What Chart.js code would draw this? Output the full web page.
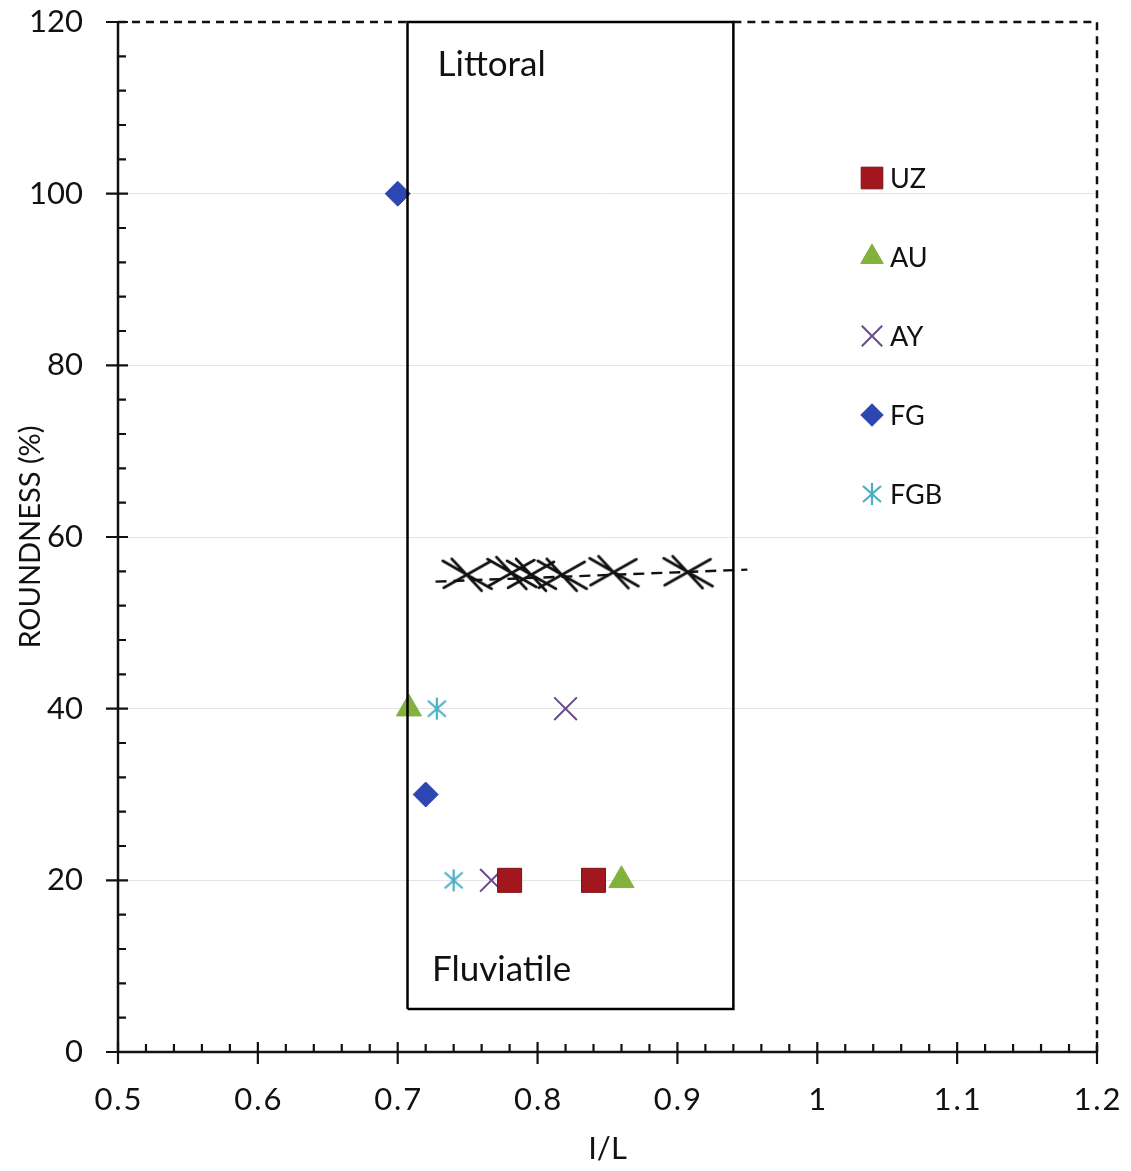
<!DOCTYPE html>
<html>
<head>
<meta charset="utf-8">
<script src="https://cdn.jsdelivr.net/npm/chart.js@4.4.1/dist/chart.umd.min.js"></script>
<style>
  html, body { margin: 0; padding: 0; background: #fff; }
  #wrap { width: 1131px; height: 1171px; }
</style>
</head>
<body>
<div id="wrap"><canvas id="roundChart" width="1131" height="1171"></canvas></div>
<script>
// series values
const uzX = [0.78, 0.84];
const uzY = [20, 20];
const auX = [0.708, 0.86];
const auY = [40, 20];
const ayX = [0.82, 0.767];
const ayY = [40, 20];
const fgX = [0.70, 0.72];
const fgY = [100, 30];
const fgbX = [0.728, 0.74];
const fgbY = [40, 20];

// littoral / fluviatile box and the hand-drawn boundary
const boxX = [0.707, 0.94, 0.94, 0.707, 0.707];
const boxY = [5, 5, 120, 120, 5];
const lineX = [0.727, 0.95];
const lineY = [54.8, 56.2];
const crossX = [0.75, 0.782, 0.796, 0.818, 0.855, 0.908];
const crossY = [55.6, 55.8, 55.6, 55.6, 55.9, 55.9];

const xTicks = [0.5, 0.6, 0.7, 0.8, 0.9, 1, 1.1, 1.2];
const yTicks = [0, 20, 40, 60, 80, 100, 120];

const FONT = 'Lato, "Open Sans", sans-serif';

const pts = (xs, ys) => xs.map((x, i) => ({ x: x, y: ys[i] }));

// elongated hand-drawn looking X used for the boundary marks
function makeCross() {
    const c = document.createElement('canvas');
    c.width = 56; c.height = 38;
    const g = c.getContext('2d');
    g.strokeStyle = '#111';
    g.lineWidth = 2.6;
    g.lineCap = 'round';
    g.beginPath();
    g.moveTo(3, 5); g.lineTo(52, 33);
    g.moveTo(4, 32); g.lineTo(50, 6);
    g.moveTo(12, 3); g.lineTo(42, 35);
    g.stroke();
    return c;
}

// six-armed asterisk like the FGB marker
function makeAsterisk(color) {
    const c = document.createElement('canvas');
    c.width = 26; c.height = 26;
    const g = c.getContext('2d');
    g.strokeStyle = color;
    g.lineWidth = 2.2;
    g.beginPath();
    g.moveTo(13, 2); g.lineTo(13, 24);
    g.moveTo(4, 5); g.lineTo(22, 21);
    g.moveTo(22, 5); g.lineTo(4, 21);
    g.stroke();
    return c;
}

const series = [
    { label: 'UZ', data: pts(uzX, uzY), pointStyle: 'rect', pointRadius: 17, backgroundColor: '#a1171d', borderColor: '#7d1216', borderWidth: 1 },
    { label: 'AU', data: pts(auX, auY), pointStyle: 'triangle', pointRadius: 14.5, backgroundColor: '#82b13c', borderColor: '#82b13c', borderWidth: 1 },
    { label: 'AY', data: pts(ayX, ayY), pointStyle: 'crossRot', pointRadius: 16, backgroundColor: '#6a4a8c', borderColor: '#6a4a8c', borderWidth: 2 },
    { label: 'FG', data: pts(fgX, fgY), pointStyle: 'rectRot', pointRadius: 12.5, backgroundColor: '#2c46b2', borderColor: '#2c46b2', borderWidth: 1 },
    { label: 'FGB', data: pts(fgbX, fgbY), pointStyle: makeAsterisk('#4aaec4'), pointRadius: 12, backgroundColor: '#4aaec4', borderColor: '#4aaec4', borderWidth: 2 }
];

const datasets = series.map(s => Object.assign({ showLine: false, pointHoverRadius: s.pointRadius }, s));

datasets.push({
    label: 'box', data: pts(boxX, boxY), showLine: true, pointRadius: 0,
    borderColor: '#000', borderWidth: 2.5, fill: false, clip: false, order: -1
});
datasets.push({
    label: 'boundary', data: pts(lineX, lineY), showLine: true, pointRadius: 0,
    borderColor: '#111', borderWidth: 2.4, borderDash: [11, 7], fill: false
});
datasets.push({
    label: 'marks', data: pts(crossX, crossY), showLine: false,
    pointStyle: makeCross(), pointRadius: 20
});

// axes, ticks, dashed frame, notes and legend
const framePlugin = {
    id: 'frame',
    afterDraw(chart) {
        const ctx = chart.ctx;
        const a = chart.chartArea;
        const xs = chart.scales.x, ys = chart.scales.y;
        ctx.save();
        ctx.strokeStyle = '#111';
        ctx.lineWidth = 2.5;

        // dashed top and right
        ctx.setLineDash([8, 6]);
        ctx.beginPath();
        ctx.moveTo(a.left, a.top); ctx.lineTo(xs.getPixelForValue(0.707), a.top);
        ctx.moveTo(xs.getPixelForValue(0.94), a.top); ctx.lineTo(a.right, a.top);
        ctx.lineTo(a.right, a.bottom);
        ctx.stroke();
        ctx.setLineDash([]);

        // solid left and bottom axes
        ctx.beginPath();
        ctx.moveTo(a.left, a.top); ctx.lineTo(a.left, a.bottom); ctx.lineTo(a.right, a.bottom);
        ctx.stroke();

        ctx.lineWidth = 2.2;
        ctx.beginPath();
        for (let v = 0; v <= 120; v += 4) {
            const p = ys.getPixelForValue(v);
            if (v % 20 === 0) { ctx.moveTo(a.left - 12, p); ctx.lineTo(a.left + 10, p); }
            else { ctx.moveTo(a.left, p); ctx.lineTo(a.left + 8, p); }
        }
        for (let i = 0; i <= 35; i++) {
            const p = xs.getPixelForValue(0.5 + i * 0.02);
            if (i % 5 === 0) { ctx.moveTo(p, a.bottom - 10); ctx.lineTo(p, a.bottom + 12); }
            else { ctx.moveTo(p, a.bottom); ctx.lineTo(p, a.bottom - 8); }
        }
        ctx.stroke();

        // zone names
        ctx.fillStyle = '#111';
        ctx.font = '35px ' + FONT;
        ctx.textBaseline = 'middle';
        ctx.textAlign = 'left';
        ctx.fillText('Littoral', xs.getPixelForValue(0.7285), ys.getPixelForValue(115.0));
        ctx.fillText('Fluviatile', xs.getPixelForValue(0.7245), ys.getPixelForValue(9.6));

        // legend
        const lx = a.left + 754, ly = a.top + 156, step = 79;
        ctx.font = '27px ' + FONT;
        series.forEach((s, i) => {
            const y = ly + i * step;
            ctx.fillStyle = s.backgroundColor;
            ctx.strokeStyle = s.borderColor;
            ctx.lineWidth = s.borderWidth;
            Chart.helpers.drawPoint(ctx, {
                pointStyle: s.pointStyle, radius: s.pointRadius * 0.9, rotation: 0, borderWidth: s.borderWidth
            }, lx, y);
            ctx.fillStyle = '#111';
            ctx.fillText(s.label, lx + 18, y + 1);
        });
        ctx.restore();
    }
};

const fmt = v => {
    const s = String(Math.round(v * 10) / 10);
    return s.split('').join('\u200A');
};

new Chart(document.getElementById('roundChart'), {
    type: 'scatter',
    data: { datasets: datasets },
    options: {
        responsive: false,
        animation: false,
        layout: { padding: { top: 22, right: 34, left: 0, bottom: 0 } },
        plugins: { legend: { display: false }, tooltip: { enabled: false } },
        scales: {
            x: {
                type: 'linear', min: 0.5, max: 1.2,
                afterBuildTicks: s => { s.ticks = xTicks.map(v => ({ value: v })); },
                afterFit: s => { s.height = 119; },
                grid: { drawOnChartArea: false, drawTicks: true, tickLength: 29, tickColor: 'rgba(0,0,0,0)' },
                border: { display: false },
                ticks: { color: '#111', font: { family: FONT, size: 31 }, padding: 0, callback: v => fmt(v), maxRotation: 0 },
                title: { display: true, text: 'I/L', color: '#111', font: { family: FONT, size: 31 }, padding: { top: 0, bottom: 3 } }
            },
            y: {
                type: 'linear', min: 0, max: 120,
                afterBuildTicks: s => { s.ticks = yTicks.map(v => ({ value: v })); },
                afterFit: s => { s.width = 118; },
                grid: {
                    drawTicks: true, tickLength: 35, tickColor: 'rgba(0,0,0,0)', lineWidth: 1,
                    color: c => (c.tick && c.tick.value > 0 && c.tick.value < 120) ? '#e4e4e4' : 'rgba(0,0,0,0)'
                },
                border: { display: false },
                ticks: { color: '#111', font: { family: FONT, size: 31 }, padding: 0 },
                title: { display: true, text: 'ROUNDNESS (%)', color: '#111', font: { family: FONT, size: 29 }, padding: { top: 13, bottom: 0 } }
            }
        }
    },
    plugins: [framePlugin]
});
</script>
</body>
</html>
